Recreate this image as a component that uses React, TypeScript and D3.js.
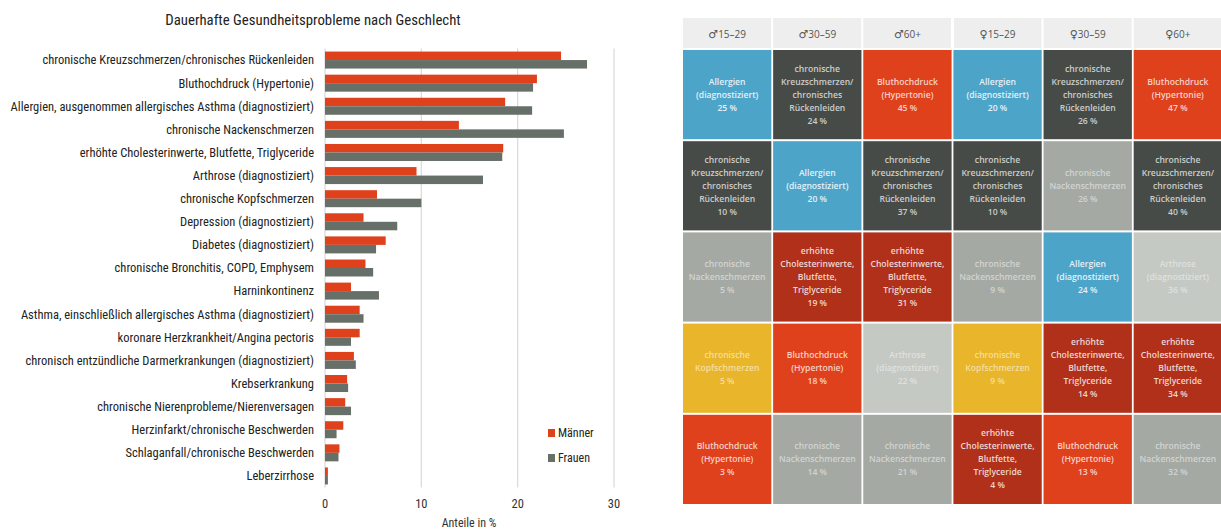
import React from "react";
import * as d3 from "d3";

const categories = [
  "chronische Kreuzschmerzen/chronisches Rückenleiden",
  "Bluthochdruck (Hypertonie)",
  "Allergien, ausgenommen allergisches Asthma (diagnostiziert)",
  "chronische Nackenschmerzen",
  "erhöhte Cholesterinwerte,  Blutfette, Triglyceride",
  "Arthrose (diagnostiziert)",
  "chronische Kopfschmerzen",
  "Depression (diagnostiziert)",
  "Diabetes (diagnostiziert)",
  "chronische Bronchitis, COPD, Emphysem",
  "Harninkontinenz",
  "Asthma, einschließlich allergisches Asthma (diagnostiziert)",
  "koronare Herzkrankheit/Angina pectoris",
  "chronisch entzündliche Darmerkrankungen (diagnostiziert)",
  "Krebserkrankung",
  "chronische Nierenprobleme/Nierenversagen",
  "Herzinfarkt/chronische Beschwerden",
  "Schlaganfall/chronische Beschwerden",
  "Leberzirrhose",
];
const maenner = [24.5, 22.0, 18.7, 13.9, 18.5, 9.5, 5.4, 4.0, 6.3, 4.2, 2.7, 3.6, 3.6, 3.0, 2.3, 2.1, 1.9, 1.5, 0.3];
const frauen = [27.2, 21.6, 21.5, 24.8, 18.4, 16.4, 10.0, 7.5, 5.3, 5.0, 5.6, 4.0, 2.7, 3.2, 2.4, 2.7, 1.2, 1.4, 0.3];
const xTicks = [0, 10, 20, 30];
const seriesNames = ["Männer", "Frauen"];

const groupSymbols = ["♂", "♂", "♂", "♀", "♀", "♀"];
const groupAges = ["15–29", "30–59", "60+", "15–29", "30–59", "60+"];
const groups = groupAges.map((a, i) => groupSymbols[i] + a);
const rankConditions = [
  ["allergien", "kreuz", "nacken", "kopf", "blutdruck"],
  ["kreuz", "allergien", "chol", "blutdruck", "nacken"],
  ["blutdruck", "kreuz", "chol", "arthrose", "nacken"],
  ["allergien", "kreuz", "nacken", "kopf", "chol"],
  ["kreuz", "nacken", "allergien", "chol", "blutdruck"],
  ["blutdruck", "kreuz", "arthrose", "chol", "nacken"],
];
const rankValues = [
  [25, 10, 5, 5, 3],
  [24, 20, 19, 18, 14],
  [45, 37, 31, 22, 21],
  [20, 10, 9, 9, 4],
  [26, 26, 24, 14, 13],
  [47, 40, 36, 34, 32],
];
const conditionLines: Record<string, string[]> = {
  allergien: ["Allergien", "(diagnostiziert)"],
  kreuz: ["chronische", "Kreuzschmerzen/", "chronisches", "Rückenleiden"],
  blutdruck: ["Bluthochdruck", "(Hypertonie)"],
  nacken: ["chronische", "Nackenschmerzen"],
  kopf: ["chronische", "Kopfschmerzen"],
  chol: ["erhöhte", "Cholesterinwerte,", "Blutfette,", "Triglyceride"],
  arthrose: ["Arthrose", "(diagnostiziert)"],
};
const conditionColor: Record<string, string> = {
  allergien: "#4da4c9",
  kreuz: "#474b47",
  blutdruck: "#e0411d",
  nacken: "#a4a9a4",
  kopf: "#e8b52b",
  chol: "#b0301a",
  arthrose: "#c4c9c4",
};
const textMix: Record<string, number> = {
  allergien: 0.85,
  kreuz: 0.72,
  blutdruck: 0.75,
  nacken: 0.5,
  kopf: 0.55,
  chol: 0.8,
  arthrose: 0.45,
};

const W = 1221;
const H = 529;
const M_COLOR = "#e0411d";
const F_COLOR = "#677068";
const FONT = "'Liberation Sans Narrow', 'Roboto Condensed', 'DejaVu Sans Condensed', Roboto, sans-serif";
const TILE_FONT = "'Open Sans', 'Noto Sans', sans-serif";

export default function App() {
  const x = d3.scaleLinear().domain([0, 30]).range([325, 614]);
  const y = d3
    .scaleBand<string>()
    .domain(categories)
    .range([48.5, 487.5])
    .paddingInner(0)
    .paddingOuter(0);
  const barH = 8.5;

  const col = d3.scaleBand<string>().domain(groups).range([683, 1222]).paddingInner(0.02);
  const row = d3.scaleBand<number>().domain([0, 1, 2, 3, 4]).range([50, 504]).paddingInner(0.022);

  return (
    <svg
      width={W}
      height={H}
      style={{ position: "absolute", left: 0, top: 0, background: "#fff" }}
      fontFamily={FONT}
    >
      {/* Left chart */}
      <text x={313} y={25} textAnchor="middle" fontSize={14.8} fill="#222">
        Dauerhafte Gesundheitsprobleme nach Geschlecht
      </text>
      {xTicks.map((t) => (
        <g key={t}>
          <line x1={x(t)} x2={x(t)} y1={48.5} y2={487.5} stroke="#dcdcdc" strokeWidth={1.3} />
          <text x={x(t)} y={508} textAnchor="middle" fontSize={12.5} fill="#333">
            {t}
          </text>
        </g>
      ))}
      <text x={469} y={527} textAnchor="middle" fontSize={12} fill="#333">
        Anteile in %
      </text>
      {categories.map((c, i) => {
        const cy = (y(c) as number) + y.bandwidth() / 2;
        return (
          <g key={c}>
            <text x={314} y={cy} dy="0.35em" textAnchor="end" fontSize={12.5} fill="#222">
              {c}
            </text>
            <rect x={x(0)} y={cy - barH} width={x(maenner[i]) - x(0)} height={barH} fill={M_COLOR} />
            <rect x={x(0)} y={cy} width={x(frauen[i]) - x(0)} height={barH} fill={F_COLOR} />
          </g>
        );
      })}
      {seriesNames.map((s, i) => (
        <g key={s} transform={`translate(548, ${433 + i * 25})`}>
          <rect x={0} y={-4} width={7} height={8} fill={i === 0 ? M_COLOR : F_COLOR} />
          <text x={10} y={0} dy="0.35em" fontSize={12} fill="#222">
            {s}
          </text>
        </g>
      ))}

      {/* Right grid */}
      <rect x={683} y={18} width={W - 683} height={30} fill="#eeeeee" />
      {groups.map((g, gi) => {
        const cx = (col(g) as number) + col.bandwidth() / 2;
        return (
          <g key={g}>
            {gi > 0 && (
              <line
                x1={(col(g) as number) - 1}
                x2={(col(g) as number) - 1}
                y1={18}
                y2={48}
                stroke="#fff"
                strokeWidth={gi === 3 ? 3 : 2}
              />
            )}
            <text x={cx} y={34} dy="0.35em" textAnchor="middle" fontSize={10} fill="#555" fontFamily={TILE_FONT}>
              <tspan fontFamily="'DejaVu Sans', sans-serif" fontSize={11}>
                {groupSymbols[gi]}
              </tspan>
              <tspan>{groupAges[gi]}</tspan>
            </text>
            {rankConditions[gi].map((cond, ri) => {
              const tx = col(g) as number;
              const ty = row(ri) as number;
              const lines = [...conditionLines[cond], `${rankValues[gi][ri]} %`];
              const bg = conditionColor[cond];
              const fg = d3.interpolateRgb(bg, "#ffffff")(textMix[cond]);
              const lh = 13;
              const cy = ty + row.bandwidth() / 2;
              const start = cy - ((lines.length - 1) * lh) / 2;
              return (
                <g key={ri}>
                  <rect x={tx} y={ty} width={col.bandwidth()} height={row.bandwidth()} fill={bg} />
                  {lines.map((l, li) => (
                    <text
                      key={li}
                      x={tx + col.bandwidth() / 2}
                      y={start + li * lh}
                      dy="0.35em"
                      textAnchor="middle"
                      fontSize={8.6}
                      fontWeight={600}
                      fill={fg}
                      fontFamily={TILE_FONT}
                    >
                      {l}
                    </text>
                  ))}
                </g>
              );
            })}
          </g>
        );
      })}
    </svg>
  );
}
